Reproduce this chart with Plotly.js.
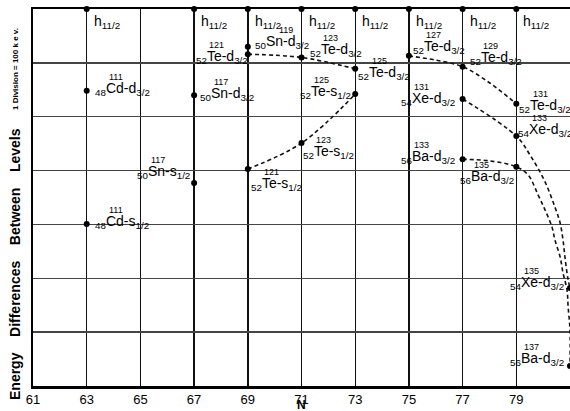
<!DOCTYPE html>
<html>
<head>
<meta charset="utf-8">
<script src="https://cdn.plot.ly/plotly-3.0.1.min.js"></script>
<style>html,body{margin:0;padding:0;background:#fff}#chart{width:570px;height:411px}</style>
</head>
<body>
<div id="chart"></div>
<script>
// ---- data ----
// h11/2 reference levels (top of chart = 7 divisions)
const hN = [63, 67, 69, 71, 73, 75, 77, 79];
const hE = [7, 7, 7, 7, 7, 7, 7, 7];

// d3/2 and s1/2 levels (divisions above the bottom axis; 1 division = 100 keV)
const levelN   = [63, 63, 67, 67, 69, 69, 71, 73, 71, 69, 73, 75, 77, 77, 79, 79, 77, 79, 81, 81];
const levelE   = [5.48, 3.01, 3.77, 5.40, 6.30, 6.16, 6.10, 5.42, 4.51, 4.03, 5.89, 6.13, 5.93, 5.33, 5.24, 4.64, 4.21, 4.07, 1.82, 0.37];
const levelZ   = ["48", "48", "50", "50", "50", "52", "52", "52", "52", "52", "52", "52", "52", "54", "52", "54", "56", "56", "54", "56"];
const levelA   = ["111", "111", "117", "117", "119", "121", "123", "125", "123", "121", "125", "127", "129", "131", "131", "133", "133", "135", "135", "137"];
const levelEl  = ["Cd", "Cd", "Sn", "Sn", "Sn", "Te", "Te", "Te", "Te", "Te", "Te", "Te", "Te", "Xe", "Te", "Xe", "Ba", "Ba", "Xe", "Ba"];
const levelOrb = ["d", "s", "s", "d", "d", "d", "d", "s", "s", "s", "d", "d", "d", "d", "d", "d", "d", "d", "d", "d"];
const levelJ   = ["3/2", "1/2", "1/2", "3/2", "3/2", "3/2", "3/2", "1/2", "1/2", "1/2", "3/2", "3/2", "3/2", "3/2", "3/2", "3/2", "3/2", "3/2", "3/2", "3/2"];

// dashed systematics curves (points read along the drawn dashes)
const teD1N = [69, 71, 73];            const teD1E = [6.16, 6.10, 5.89];
const teSN  = [69, 71, 73];            const teSE  = [4.03, 4.51, 5.42];
const teD2N = [75, 76, 77, 78, 79];    const teD2E = [6.13, 6.05, 5.93, 5.63, 5.24];
const xeN = [77, 79, 79.51, 80.07, 80.44, 80.63, 80.74, 80.81, 80.92, 81];
const xeE = [5.33, 4.64, 4.29, 3.79, 3.32, 3.03, 2.71, 2.40, 2.0, 1.82];
const baN = [77, 78, 79, 79.44, 79.81, 80.07, 80.33, 80.44, 80.63, 80.74, 80.89, 80.93, 81, 81];
const baE = [4.21, 4.18, 4.07, 3.92, 3.55, 3.27, 2.95, 2.71, 2.40, 2.10, 1.78, 1.47, 1.04, 0.37];

const xTicks = [61, 63, 65, 67, 69, 71, 73, 75, 77, 79, 81];
const xTickText = ["61", "63", "65", "67", "69", "71", "73", "75", "77", "79", "81"];

// ---- label placement (pixels, relative to each point) ----
const labDx  = [6, 6, -59, 4, 5, -54, 6, -57, -1, 1, 1, 2, 5, -64, 1, 0, -64, -58, -62, -62];
const labDy  = [-4, -4, -13, -3, -7, 1, -9, -4, 7, 13, 2, -11, -11, -2, 0, -8, -4, 8, -7, -9];
const massDx = [23, 23, 23, 23, 33, 23, 23, 23, 23, 23, 23, 23, 23, 23, 23, 23, 23, 23, 23, 23];

const FONT = "Liberation Sans, Arial, sans-serif";
const dashLine = {color: "#111", width: 1.6, dash: "4px,3px", shape: "spline", smoothing: 1};

const traces = [
  {x: teD1N, y: teD1E, mode: "lines", line: dashLine, hoverinfo: "skip"},
  {x: teSN, y: teSE, mode: "lines", line: dashLine, hoverinfo: "skip"},
  {x: teD2N, y: teD2E, mode: "lines", line: dashLine, hoverinfo: "skip"},
  {x: xeN, y: xeE, mode: "lines", line: dashLine, hoverinfo: "skip"},
  {x: baN, y: baE, mode: "lines", line: dashLine, hoverinfo: "skip"},
  {x: levelN, y: levelE, mode: "markers", marker: {color: "#000", size: 6}, cliponaxis: false},
  {x: hN, y: hE, mode: "markers", marker: {color: "#000", size: 6}, cliponaxis: false}
];

const annotations = [];
// h11/2 labels
hN.forEach((n, i) => {
  annotations.push({x: n, y: hE[i], xref: "x", yref: "y", showarrow: false,
    text: "h<sub>11/2</sub>", xanchor: "left", yanchor: "middle",
    xshift: 5, yshift: -13, font: {family: FONT, size: 14, color: "#000"}});
});
// level labels
levelN.forEach((n, i) => {
  annotations.push({x: n, y: levelE[i], xref: "x", yref: "y", showarrow: false,
    text: "<sub>" + levelZ[i] + "</sub>" + levelEl[i] + "-" + levelOrb[i] + "<sub>" + levelJ[i] + "</sub>",
    xanchor: "left", yanchor: "middle", xshift: labDx[i], yshift: -labDy[i] - 2,
    font: {family: FONT, size: 14, color: "#000"}});
  annotations.push({x: n, y: levelE[i], xref: "x", yref: "y", showarrow: false,
    text: levelA[i], xanchor: "center", yanchor: "middle",
    xshift: labDx[i] + massDx[i], yshift: -labDy[i] + 10,
    font: {family: FONT, size: 9, color: "#000"}});
});
// axis titles
annotations.push({xref: "paper", yref: "paper", x: 0.5, y: 0, yshift: -19, showarrow: false,
  text: "<b>N</b>", font: {family: FONT, size: 12, color: "#000"}, yanchor: "middle"});
annotations.push({xref: "paper", yref: "paper", x: 0, y: 0, xshift: -18, yshift: 122, showarrow: false,
  textangle: -90, text: "<b>Energy&nbsp;&nbsp;&nbsp; Differences&nbsp;&nbsp;&nbsp; Between&nbsp;&nbsp;&nbsp; Levels</b>",
  font: {family: FONT, size: 14, color: "#000"}, xanchor: "center", yanchor: "middle"});
annotations.push({xref: "paper", yref: "paper", x: 0, y: 1, xshift: -18, yshift: -60, showarrow: false,
  textangle: -90, text: "<b>1 Division = 100 k e v.</b>",
  font: {family: FONT, size: 8, color: "#000"}, xanchor: "center", yanchor: "middle"});

const layout = {
  width: 570, height: 411,
  margin: {l: 33, r: 0, t: 9, b: 25},
  paper_bgcolor: "#fff", plot_bgcolor: "#fff",
  showlegend: false,
  xaxis: {range: [61, 81], tickvals: xTicks, ticktext: xTickText, showgrid: true,
    gridcolor: "#111", gridwidth: 1.4, zeroline: false, showline: true, linecolor: "#000",
    linewidth: 2.5, mirror: true, ticks: "",
    tickfont: {family: FONT, size: 13, color: "#000"}},
  yaxis: {range: [0, 7], dtick: 1, tick0: 0, showgrid: true, gridcolor: "#444", gridwidth: 1.4,
    zeroline: false, showline: true, linecolor: "#000", linewidth: 2.5, mirror: true,
    showticklabels: false, ticks: ""},
  annotations: annotations
};

Plotly.newPlot("chart", traces, layout, {staticPlot: true});
</script>
</body>
</html>
